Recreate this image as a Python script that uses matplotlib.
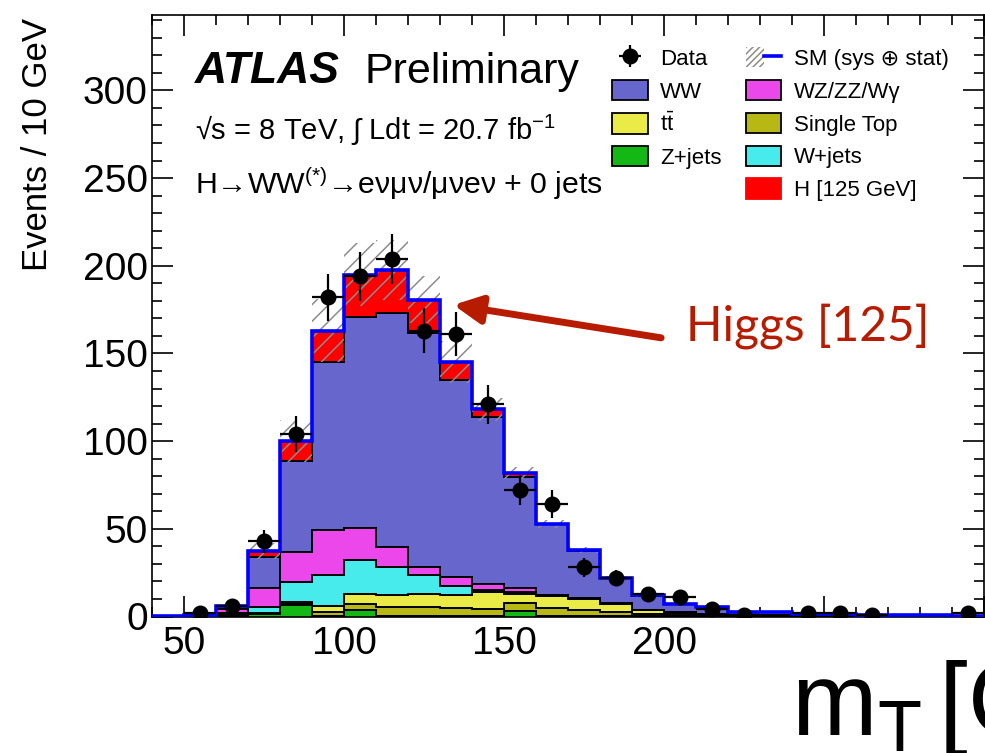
import numpy as np
import matplotlib.pyplot as plt
from matplotlib.patches import Patch
from matplotlib.lines import Line2D
from matplotlib.legend_handler import HandlerTuple

plt.rcParams['font.family'] = ['Liberation Sans', 'DejaVu Sans']
plt.rcParams['mathtext.fontset'] = 'custom'
plt.rcParams['mathtext.rm'] = 'Liberation Sans'
plt.rcParams['mathtext.it'] = 'Liberation Sans:italic'
plt.rcParams['mathtext.bf'] = 'Liberation Sans:bold'
plt.rcParams['hatch.linewidth'] = 1.1

# mT bins, 10 GeV wide, 40 -> 300 GeV
edges = np.arange(40, 301, 10)

# expected events per bin (stack order bottom -> top)
zjets = [0, 0, 0.3, 1.2, 6.3, 0.5, 3.8, 0.5, 0.3, 0.3, 0.3, 3.0, 0.2,
         0.1, 0.1, 0.1, 0.05, 0.05, 0, 0, 0, 0, 0, 0, 0, 0]
single_top = [0, 0, 0.3, 0.4, 0.8, 2.0, 3.1, 5.2, 5.0, 4.5, 4.1, 4.6, 4.6,
              3.8, 2.7, 1.3, 1.0, 0.6, 0.2, 0.2, 0.1, 0.1, 0.1, 0.05, 0.05, 0.05]
ttbar = [0, 0, 0.3, 0.5, 1.4, 3.4, 5.7, 6.3, 7.3, 7.2, 9.5, 5.4, 6.7,
         6.3, 4.5, 2.2, 1.2, 0.8, 0.3, 0.3, 0.2, 0.15, 0.15, 0.1, 0.1, 0.1]
wjets = [0, 0.1, 1.0, 3.2, 11.0, 17.5, 19.4, 16.2, 10.8, 5.3, 1.3, 1.0, 0.2,
         0.1, 0.1, 0.1, 0.1, 0.05, 0.05, 0.05, 0, 0, 0, 0, 0, 0]
diboson = [0.1, 0.5, 2.5, 10.9, 17.5, 26.1, 18.5, 11.4, 4.8, 5.2, 3.5, 2.2, 0.3,
           0.2, 0.2, 0.1, 0.1, 0.05, 0.05, 0.05, 0.05, 0.05, 0.05, 0.05, 0.05, 0.05]
ww = [0.2, 0.4, 1.6, 17.7, 51.9, 95.4, 120.2, 133.4, 133.3, 112.4, 95.2, 63.4, 40.6,
      27.0, 14.4, 8.1, 4.6, 3.7, 1.8, 1.9, 1.0, 0.9, 0.7, 0.5, 0.4, 0.3]
higgs = [0, 0, 0.2, 3.5, 11.0, 18.0, 24.2, 24.7, 19.1, 10.4, 4.2, 2.3, 0.4,
         0.2, 0.1, 0.1, 0, 0, 0, 0, 0, 0, 0, 0, 0, 0]

# SM uncertainty (sys + stat), absolute
sm_err = [0.05, 0.2, 0.6, 4.5, 12, 18, 18, 17, 13.4, 12, 6.6, 3.5, 2.3,
          1.7, 1.2, 0.8, 0.6, 0.5, 0.3, 0.3, 0.2, 0.2, 0.2, 0.15, 0.15, 0.1]

# observed events
data = [0, 2, 6, 43, 104, 182, 194, 204, 163, 161, 121, 72, 64,
        28, 22, 13, 11, 4, 1, 0, 2, 2, 1, 0, 0, 2]

TT = r't$\bar{\rm t}$'
components = [
    (zjets, '#14B814', 'Z+jets'),
    (single_top, '#B8B814', 'Single Top'),
    (ttbar, '#EBEB47', TT),
    (wjets, '#47EBEB', 'W+jets'),
    (diboson, '#EB47EB', 'WZ/ZZ/W\u03b3'),
    (ww, '#6666CC', 'WW'),
    (higgs, '#FF0000', 'H [125 GeV]'),
]

fig = plt.figure(figsize=(9.85, 7.53), dpi=100)
ax = fig.add_axes([152 / 985, 136.5 / 753, 832 / 985, 601.5 / 753])

left = edges[:-1]
bottom = np.zeros(len(left))
handles = {}
for vals, col, lab in components:
    top = bottom + np.asarray(vals, dtype=float)
    ax.stairs(top, edges, baseline=bottom, fill=True, color=col, linewidth=0, zorder=2)
    if not lab.startswith('H'):
        ax.stairs(top, edges, baseline=None, color='black', linewidth=1.4, zorder=2.5)
    ec = 'red' if lab.startswith('H') else 'black'
    handles[lab] = Patch(facecolor=col, edgecolor=ec, linewidth=1.3)
    bottom = top
total = bottom

err = np.asarray(sm_err)
ax.bar(left, 2 * err, width=10, bottom=total - err, align='edge',
       facecolor='none', edgecolor='#8c8c8c', linewidth=0, hatch='//', zorder=3)
ax.stairs(total, edges, color='blue', linewidth=2.6, baseline=0, zorder=4)

d = np.asarray(data, dtype=float)
centers = left + 5
m = d > 0
eb = ax.errorbar(centers[m], d[m], yerr=np.sqrt(d[m]), xerr=5, fmt='o',
                 color='black', markersize=10.5, elinewidth=1.6, capsize=0, zorder=5)

ax.set_xlim(40, 300)
ax.set_ylim(0, 343)
ax.set_xticks(np.arange(50, 301, 50))
ax.set_xticklabels(['50', '100', '150', '200', '', ''])
ax.set_xticks(np.arange(40, 301, 10), minor=True)
ax.set_yticks(np.arange(0, 301, 50))
ax.set_yticks(np.arange(0, 341, 10), minor=True)
ax.tick_params(which='both', direction='in', top=True, right=True, width=1.2,
               labelsize=28)
ax.tick_params(which='major', length=15)
ax.tick_params(which='minor', length=7.5)
ax.tick_params(axis='x', which='major', pad=7)
ax.tick_params(axis='y', which='major', pad=3)
for s in ax.spines.values():
    s.set_linewidth(1.2)

ax.set_ylabel('Events / 10 GeV', fontsize=25, loc='top')
ax.yaxis.set_label_coords(-0.118, 0.995)
ax.set_xlabel(r'm$_{\rm T}\,$[GeV]', fontsize=74, ha='left', va='baseline')
ax.xaxis.set_label_coords(0.768, -0.197)

ax.text(0.052, 0.887, 'ATLAS', transform=ax.transAxes, fontsize=32,
        fontweight='bold', fontstyle='italic')
ax.text(0.256, 0.887, 'Preliminary', transform=ax.transAxes, fontsize=31)
ax.text(0.052, 0.792, '\u221as = 8 TeV, \u222b Ldt = 20.7 fb$^{-1}$',
        transform=ax.transAxes, fontsize=21)
ax.text(0.052, 0.702,
        'H\u2192WW$^{(*)}$\u2192e\u03bd\u03bc\u03bd/\u03bc\u03bde\u03bd + 0 jets',
        transform=ax.transAxes, fontsize=21.8)

sm_handle = (Patch(facecolor='white', edgecolor='#8c8c8c', hatch='/////', linewidth=0),
             Line2D([], [], color='blue', linewidth=2.6))
blank = Patch(visible=False)
leg_handles = [eb, handles['WW'], handles[TT], handles['Z+jets'], blank,
               sm_handle, handles['WZ/ZZ/W\u03b3'], handles['Single Top'],
               handles['W+jets'], handles['H [125 GeV]']]
leg_labels = ['Data', 'WW', TT, 'Z+jets', '',
              'SM (sys \u2295 stat)', 'WZ/ZZ/W\u03b3', 'Single Top', 'W+jets',
              'H [125 GeV]']
ax.legend(leg_handles, leg_labels, ncol=2, loc='upper left',
          bbox_to_anchor=(0.553, 0.947), frameon=False, fontsize=16,
          handlelength=1.6, handleheight=1.05, handletextpad=0.55,
          labelspacing=0.45, columnspacing=1.1, borderpad=0, borderaxespad=0,
          handler_map={tuple: HandlerTuple(ndivide=None)})

red = '#B81C00'
ax.annotate('', xy=(134.2, 177.7), xytext=(199.1, 158.9),
            arrowprops=dict(arrowstyle='-|>', color=red, lw=5,
                            mutation_scale=42, shrinkA=0, shrinkB=0))
ax.text(207.0, 157.5, 'Higgs [125]', color=red, fontsize=34.5, family='Lato',
        va='baseline')

fig.savefig('out.png', dpi=100)
